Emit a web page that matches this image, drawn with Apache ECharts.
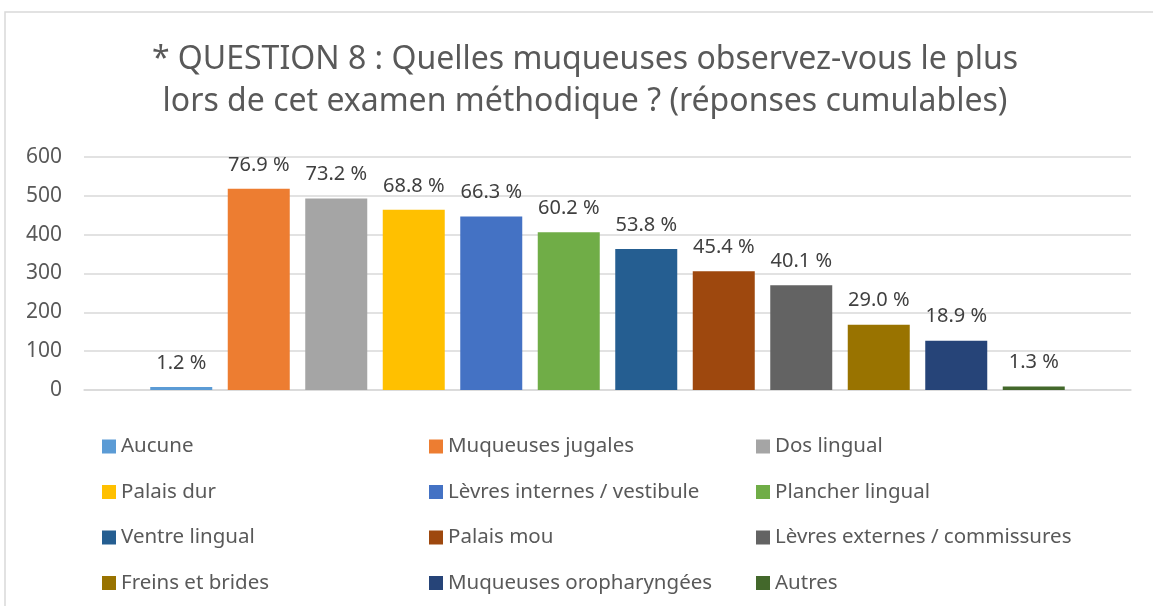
<!DOCTYPE html>
<html>
<head>
<meta charset="utf-8">
<script src="https://cdn.jsdelivr.net/npm/echarts@6/dist/echarts.min.js"></script>
<style>
  html, body { margin: 0; padding: 0; background: #fff; }
  #main { width: 1153px; height: 606px; }
</style>
</head>
<body>
<div id="main"></div>
<script>
var names = ['Aucune', 'Muqueuses jugales', 'Dos lingual', 'Palais dur',
  'Lèvres internes / vestibule', 'Plancher lingual', 'Ventre lingual', 'Palais mou',
  'Lèvres externes / commissures', 'Freins et brides', 'Muqueuses oropharyngées', 'Autres'];
var values = [8, 518, 493, 464, 447, 406, 363, 306, 270, 168, 127, 9];
var pctLabels = ['1.2 %', '76.9 %', '73.2 %', '68.8 %', '66.3 %', '60.2 %',
  '53.8 %', '45.4 %', '40.1 %', '29.0 %', '18.9 %', '1.3 %'];
var colors = ['#5B9BD5', '#ED7D31', '#A5A5A5', '#FFC000', '#4472C4', '#70AD47',
  '#255E91', '#9E480E', '#636363', '#997300', '#264478', '#43682B'];
var yTicks = [0, 100, 200, 300, 400, 500, 600];

var font = 'Noto Sans';
var myChart = echarts.init(document.getElementById('main'));

var series = names.map(function (n, i) {
  return {
    name: n,
    type: 'bar',
    barWidth: 62,
    barGap: '25%',
    itemStyle: { color: colors[i] },
    label: {
      show: true,
      position: 'top',
      distance: 14,
      color: '#404040',
      fontFamily: font,
      fontSize: 20,
      formatter: function () { return pctLabels[i]; }
    },
    data: [values[i]]
  };
});

// three legend columns, like the Excel layout
var legendLefts = [102, 429, 756];
var legends = legendLefts.map(function (x, c) {
  return {
    orient: 'vertical',
    left: x,
    top: 436,
    padding: 0,
    itemWidth: 14,
    itemHeight: 14,
    itemGap: 24.5,
    icon: 'rect',
    selectedMode: false,
    textStyle: { color: '#595959', fontFamily: font, fontSize: 20.5 },
    data: names.filter(function (n, i) { return i % 3 === c; })
  };
});

option = {
  animation: false,
  backgroundColor: '#fff',
  title: {
    text: '* QUESTION 8 : Quelles muqueuses observez-vous le plus\nlors de cet examen méthodique ? (réponses cumulables)',
    left: 580,
    textAlign: 'center',
    top: 34,
    textStyle: {
      color: '#595959',
      fontFamily: font,
      fontSize: 32,
      fontWeight: 'normal',
      lineHeight: 42
    }
  },
  graphic: [{
    type: 'rect',
    shape: { x: 5, y: 12, width: 1300, height: 800 },
    style: { fill: 'none', stroke: '#D9D9D9', lineWidth: 1.5 },
    silent: true
  }],
  legend: legends,
  grid: { left: 84, right: 22, top: 157, bottom: 216 },
  xAxis: {
    type: 'category',
    data: [''],
    axisTick: { show: false },
    axisLabel: { show: false },
    axisLine: { lineStyle: { color: '#D9D9D9', width: 1.5 } }
  },
  yAxis: {
    type: 'value',
    min: yTicks[0],
    max: yTicks[yTicks.length - 1],
    interval: 100,
    axisLine: { show: false },
    axisTick: { show: false },
    axisLabel: { color: '#595959', fontFamily: font, fontSize: 21, margin: 22 },
    splitLine: { lineStyle: { color: '#D9D9D9', width: 1.5 } }
  },
  series: series
};
myChart.setOption(option);
</script>
</body>
</html>
